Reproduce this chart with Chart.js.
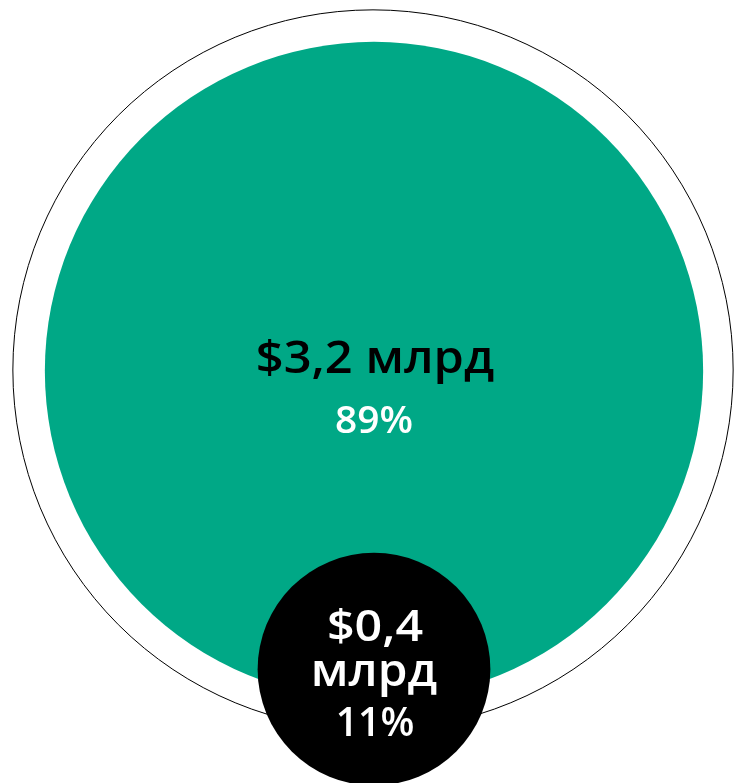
<!DOCTYPE html>
<html>
<head>
<meta charset="utf-8">
<script src="https://cdn.jsdelivr.net/npm/chart.js@4"></script>
<style>
html,body{margin:0;padding:0;background:#fff;}
canvas{display:block;}
</style>
</head>
<body>
<canvas id="c" width="734" height="783"></canvas>
<script>
// Data
const categories = ['big', 'small'];
const valueLabels = ['$3,2 млрд', '$0,4 млрд'];
const values = [3.2, 0.4];          // billions USD
const percents = [89, 11];

// Layout (pixels)
const W = 734, H = 783;
const K = 184;                       // px per sqrt(billion)
const CX = 373, CY = 370;
const GAP = 31;

const rBig = K * Math.sqrt(values[0]);
const rSmall = K * Math.sqrt(values[1]);

const ringPoint = {x: CX, y: CY, r: rBig + GAP};
const bigPoint = {x: CX + 1, y: CY + 1, r: rBig};
const smallPoint = {x: CX + 1, y: CY + 1 + rBig - GAP, r: rSmall};

const FONT = '"Open Sans", "Noto Sans", sans-serif';

function drawText(ctx, text, x, y, font, color, sx) {
  ctx.save();
  ctx.font = font;
  ctx.fillStyle = color;
  ctx.textAlign = 'center';
  ctx.textBaseline = 'alphabetic';
  ctx.translate(x, y);
  ctx.scale(sx, 1);
  ctx.fillText(text, 0, 0);
  ctx.restore();
}

const labelPlugin = {
  id: 'labels',
  afterDatasetsDraw(chart) {
    const ctx = chart.ctx;
    const big = chart.getDatasetMeta(1).data[0];
    const small = chart.getDatasetMeta(2).data[0];
    // big bubble
    drawText(ctx, valueLabels[0], big.x + 1, big.y + 2, '600 46px ' + FONT, '#000', 1.06);
    drawText(ctx, percents[0] + '%', big.x, big.y + 62, '600 37px ' + FONT, '#fff', 1.05);
    // small bubble
    const parts = valueLabels[1].split(' ');
    drawText(ctx, parts[0], small.x + 1, small.y - 28, '600 44px ' + FONT, '#fff', 1.1);
    drawText(ctx, parts[1], small.x, small.y + 17, '600 46px ' + FONT, '#fff', 1.04);
    drawText(ctx, percents[1] + '%', small.x + 1, small.y + 67, '600 40px ' + FONT, '#fff', 0.98);
  }
};

new Chart(document.getElementById('c'), {
  type: 'bubble',
  data: {
    datasets: [
      {label: 'ring', data: [ringPoint], backgroundColor: 'rgba(0,0,0,0)', borderColor: '#000', borderWidth: 1, order: 3, clip: false},
      {label: categories[0], data: [bigPoint], backgroundColor: '#00A886', borderWidth: 0, order: 2, clip: false},
      {label: categories[1], data: [smallPoint], backgroundColor: '#000', borderWidth: 0, order: 1, clip: false}
    ]
  },
  options: {
    responsive: false,
    animation: false,
    events: [],
    layout: {padding: 0, autoPadding: false},
    plugins: {legend: {display: false}, tooltip: {enabled: false}},
    scales: {
      x: {type: 'linear', min: 0, max: W, display: false},
      y: {type: 'linear', min: 0, max: H, reverse: true, display: false}
    }
  },
  plugins: [labelPlugin]
});
</script>
</body>
</html>
